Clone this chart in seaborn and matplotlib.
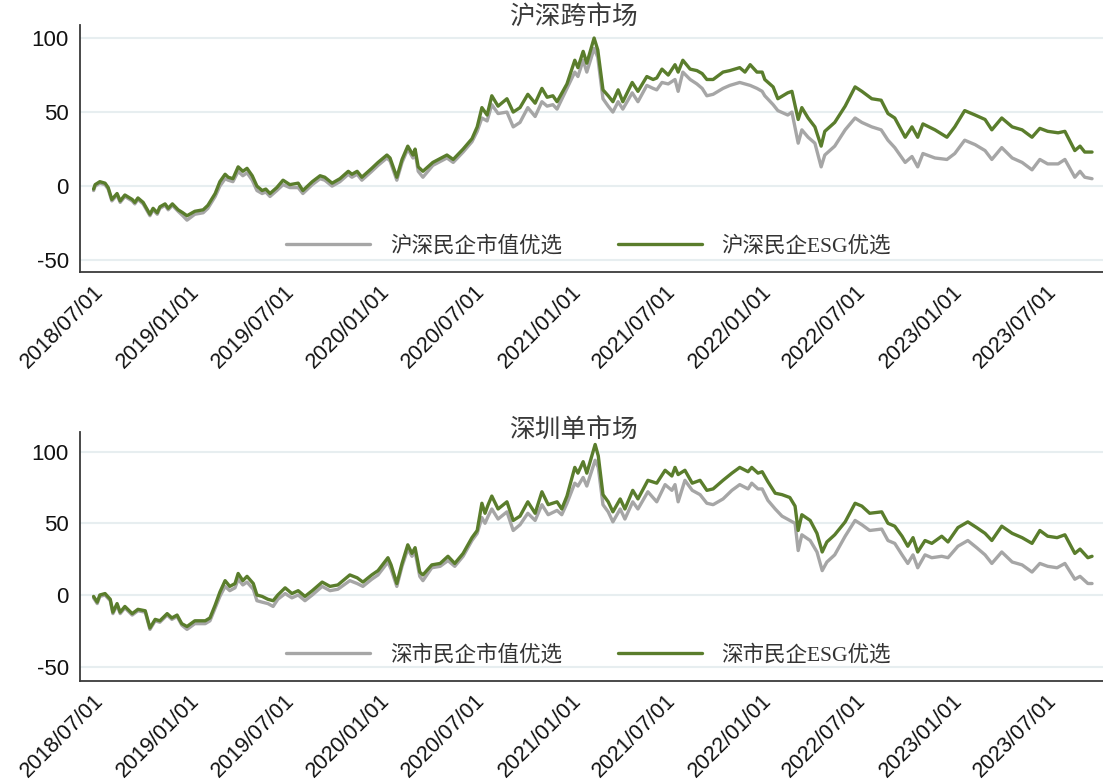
import matplotlib
matplotlib.use("Agg")
import matplotlib.pyplot as plt
import pandas as pd
import seaborn as sns

# ---------------- data ----------------
panel_titles = ["沪深跨市场", "深圳单市场"]
cross_labels = ["沪深民企市值优选", "沪深民企ESG优选"]
sz_labels = ["深市民企市值优选", "深市民企ESG优选"]
tick_labels = ["2018/07/01", "2019/01/01", "2019/07/01", "2020/01/01", "2020/07/01",
               "2021/01/01", "2021/07/01", "2022/01/01", "2022/07/01", "2023/01/01",
               "2023/07/01"]
y_ticks = [-50, 0, 50, 100]

# 沪深跨市场: cumulative return (%)
cross_dates = [
    "2018-07-02", "2018-07-05", "2018-07-14", "2018-07-24", "2018-07-30", "2018-08-06",
    "2018-08-16", "2018-08-22", "2018-08-31", "2018-09-14", "2018-09-19", "2018-09-25",
    "2018-10-05", "2018-10-18", "2018-10-24", "2018-11-01", "2018-11-06", "2018-11-16",
    "2018-11-22", "2018-11-30", "2018-12-11", "2018-12-20", "2018-12-28",
    "2019-01-12", "2019-01-28", "2019-02-06", "2019-02-20", "2019-03-01", "2019-03-11",
    "2019-03-17", "2019-03-26", "2019-04-05", "2019-04-14", "2019-04-22", "2019-05-02",
    "2019-05-11", "2019-05-21", "2019-05-28", "2019-06-05", "2019-06-18", "2019-06-30",
    "2019-07-13", "2019-07-29", "2019-08-07", "2019-08-25", "2019-09-09", "2019-09-18",
    "2019-10-02", "2019-10-17", "2019-11-02", "2019-11-09", "2019-11-19", "2019-11-28",
    "2019-12-17", "2019-12-29",
    "2020-01-15", "2020-01-21", "2020-02-03", "2020-02-13", "2020-02-24", "2020-03-05",
    "2020-03-09", "2020-03-15", "2020-03-24", "2020-04-12", "2020-05-09", "2020-05-21",
    "2020-06-09", "2020-06-26", "2020-07-06", "2020-07-15", "2020-07-25", "2020-08-03",
    "2020-08-15", "2020-09-01", "2020-09-13", "2020-09-26", "2020-10-11", "2020-10-25",
    "2020-11-07", "2020-11-17", "2020-11-28", "2020-12-06", "2020-12-25",
    "2021-01-09", "2021-01-15", "2021-01-25", "2021-02-01", "2021-02-15", "2021-02-22",
    "2021-03-04", "2021-03-14", "2021-03-23", "2021-04-02", "2021-04-11", "2021-04-29",
    "2021-05-10", "2021-05-27", "2021-06-08", "2021-06-15", "2021-06-25", "2021-07-07",
    "2021-07-20", "2021-07-26", "2021-08-04", "2021-08-18", "2021-08-31", "2021-09-10",
    "2021-09-19", "2021-10-01", "2021-10-20", "2021-11-02", "2021-11-21", "2021-12-01",
    "2021-12-11", "2021-12-24",
    "2022-01-03", "2022-01-08", "2022-01-24", "2022-02-02", "2022-02-21", "2022-03-01",
    "2022-03-13", "2022-03-20", "2022-04-01", "2022-04-14", "2022-04-26", "2022-05-03",
    "2022-05-22", "2022-06-11", "2022-06-30", "2022-07-13", "2022-08-01", "2022-08-19",
    "2022-09-01", "2022-09-14", "2022-10-04", "2022-10-17", "2022-10-28", "2022-11-07",
    "2022-11-30", "2022-12-23",
    "2023-01-07", "2023-01-26", "2023-02-15", "2023-03-06", "2023-03-19", "2023-04-07",
    "2023-04-27", "2023-05-16", "2023-06-04", "2023-06-19", "2023-07-04", "2023-07-24",
    "2023-08-06", "2023-08-25", "2023-09-04", "2023-09-13", "2023-09-27",
]
cross_size = [
    -3, 0, 2, 1, -2, -10, -6, -11, -7, -10, -12, -9, -12, -20, -16, -19, -15, -13, -16,
    -13, -17, -20, -23,
    -19, -18, -15, -7, 0, 5, 4, 3, 10, 7, 9, 4, -3, -5, -4, -7, -3, 1, -1, -1, -5, 1, 5,
    4, 0, 3, 8, 6, 8, 4, 10, 14,
    19, 17, 4, 16, 25, 19, 23, 10, 6, 14, 19, 16, 23, 30, 37, 46, 44, 55, 49, 50, 40, 43,
    53, 47, 57, 54, 55, 52, 66,
    77, 74, 85, 77, 93, 87, 59, 54, 50, 57, 52, 63, 57, 68, 66, 65, 70, 69, 72, 64, 77,
    72, 69, 66, 61, 62, 66, 68, 70, 69, 68, 66,
    64, 61, 55, 51, 48, 50, 29, 38, 33, 29, 13, 21, 27, 38, 46, 43, 40, 38, 31, 26, 16,
    20, 13, 22, 19, 18,
    22, 31, 28, 24, 18, 26, 19, 16, 11, 18, 15, 15, 18, 6, 10, 6, 5,
]
cross_esg = [
    -2, 1, 3, 2, -1, -9, -5, -10, -6, -9, -11, -8, -11, -19, -15, -18, -14, -12, -15,
    -12, -16, -18, -20,
    -17, -16, -13, -5, 3, 8, 6, 5, 13, 10, 12, 7, 0, -3, -2, -5, -1, 4, 1, 2, -3, 3, 7,
    6, 2, 5, 10, 8, 10, 6, 12, 16,
    21, 19, 6, 18, 27, 21, 25, 13, 10, 16, 21, 18, 25, 32, 40, 53, 48, 61, 54, 59, 50, 53,
    62, 56, 66, 60, 61, 57, 69,
    85, 80, 91, 83, 100, 92, 65, 61, 57, 65, 57, 70, 64, 74, 72, 73, 79, 75, 82, 77, 85,
    79, 78, 76, 72, 72, 77, 78, 80, 77, 82, 77,
    77, 72, 67, 59, 63, 64, 45, 53, 46, 40, 27, 37, 43, 54, 67, 64, 59, 58, 49, 46, 33,
    40, 33, 42, 38, 33,
    40, 51, 48, 45, 38, 46, 40, 38, 33, 39, 37, 36, 37, 24, 27, 23, 23,
]

# 深圳单市场: cumulative return (%)
sz_dates = [
    "2018-07-02", "2018-07-09", "2018-07-14", "2018-07-24", "2018-08-03", "2018-08-08",
    "2018-08-16", "2018-08-22", "2018-08-31", "2018-09-14", "2018-09-25", "2018-10-09",
    "2018-10-18", "2018-10-28", "2018-11-06", "2018-11-20", "2018-11-29", "2018-12-09",
    "2018-12-18", "2018-12-28",
    "2019-01-12", "2019-02-01", "2019-02-10", "2019-02-20", "2019-03-01", "2019-03-11",
    "2019-03-20", "2019-03-30", "2019-04-05", "2019-04-14", "2019-04-22", "2019-05-04",
    "2019-05-11", "2019-05-21", "2019-06-01", "2019-06-11", "2019-06-20", "2019-07-04",
    "2019-07-17", "2019-07-29", "2019-08-11", "2019-08-25", "2019-09-13", "2019-09-28",
    "2019-10-13", "2019-11-05", "2019-11-19", "2019-11-30", "2019-12-17", "2019-12-29",
    "2020-01-17", "2020-01-23", "2020-02-03", "2020-02-13", "2020-02-24", "2020-03-03",
    "2020-03-09", "2020-03-18", "2020-03-24", "2020-04-10", "2020-04-26", "2020-05-11",
    "2020-05-24", "2020-06-09", "2020-06-26", "2020-07-06", "2020-07-15", "2020-07-21",
    "2020-07-27", "2020-08-03", "2020-08-15", "2020-09-01", "2020-09-13", "2020-09-26",
    "2020-10-11", "2020-10-25", "2020-11-07", "2020-11-19", "2020-12-06", "2020-12-15",
    "2020-12-25",
    "2021-01-09", "2021-01-15", "2021-01-25", "2021-02-01", "2021-02-17", "2021-02-23",
    "2021-03-04", "2021-03-14", "2021-03-23", "2021-04-06", "2021-04-15", "2021-04-30",
    "2021-05-10", "2021-05-29", "2021-06-15", "2021-07-01", "2021-07-14", "2021-07-20",
    "2021-07-26", "2021-08-08", "2021-08-22", "2021-09-06", "2021-09-19", "2021-10-01",
    "2021-10-20", "2021-11-06", "2021-11-21", "2021-12-07", "2021-12-14", "2021-12-26",
    "2022-01-03", "2022-01-14", "2022-01-28", "2022-02-10", "2022-02-25", "2022-03-07",
    "2022-03-13", "2022-03-20", "2022-04-05", "2022-04-18", "2022-04-28", "2022-05-07",
    "2022-05-22", "2022-06-11", "2022-06-30", "2022-07-13", "2022-07-28", "2022-08-20",
    "2022-09-01", "2022-09-14", "2022-09-28", "2022-10-09", "2022-10-19", "2022-10-28",
    "2022-11-11", "2022-11-24", "2022-12-13", "2022-12-25",
    "2023-01-13", "2023-02-01", "2023-02-18", "2023-03-06", "2023-03-19", "2023-04-07",
    "2023-04-27", "2023-05-16", "2023-06-04", "2023-06-19", "2023-07-04", "2023-07-22",
    "2023-08-06", "2023-08-25", "2023-09-04", "2023-09-19", "2023-09-27",
]
sz_size = [
    -2, -6, -1, 0, -4, -13, -7, -13, -9, -14, -11, -12, -24, -18, -19, -14, -17, -15,
    -21, -24,
    -20, -20, -18, -9, -1, 6, 3, 5, 11, 7, 9, 4, -4, -5, -6, -8, -3, 1, -2, 0, -4, 0, 6,
    3, 4, 10, 8, 6, 11, 14,
    23, 18, 6, 20, 32, 27, 30, 13, 10, 19, 20, 24, 20, 27, 38, 43, 54, 50, 55, 60, 53,
    58, 45, 49, 57, 52, 63, 56, 59, 56, 64,
    78, 76, 82, 76, 94, 89, 63, 58, 51, 60, 53, 65, 60, 72, 65, 77, 73, 77, 65, 80, 73,
    70, 64, 63, 67, 73, 77, 74, 78, 74,
    74, 66, 60, 55, 52, 50, 31, 42, 38, 30, 17, 23, 28, 41, 52, 49, 45, 46, 38, 36, 28,
    22, 28, 19, 28, 26, 27, 26,
    34, 38, 33, 28, 22, 30, 23, 21, 16, 22, 20, 19, 22, 11, 13, 8, 8,
]
sz_esg = [
    -1, -5, 0, 1, -3, -12, -6, -12, -8, -13, -10, -11, -23, -17, -18, -13, -16, -14,
    -20, -22,
    -18, -18, -16, -7, 2, 10, 6, 8, 15, 10, 13, 8, 0, -1, -3, -4, 0, 5, 1, 3, -1, 3, 9,
    6, 7, 14, 12, 9, 14, 17,
    26, 21, 8, 22, 35, 29, 33, 16, 14, 21, 22, 27, 22, 29, 40, 45, 64, 57, 63, 69, 60,
    65, 52, 55, 65, 57, 72, 63, 65, 60, 69,
    89, 85, 93, 85, 105, 97, 70, 65, 58, 67, 60, 73, 67, 80, 78, 87, 83, 89, 84, 87, 78,
    80, 73, 74, 80, 85, 89, 86, 89, 85,
    86, 79, 71, 70, 68, 62, 45, 56, 52, 43, 30, 37, 42, 51, 64, 62, 57, 58, 50, 48, 41,
    34, 40, 30, 38, 36, 41, 37,
    47, 51, 47, 43, 38, 48, 43, 40, 36, 45, 41, 40, 42, 29, 32, 26, 27,
]

# ---------------- style ----------------
GRAY = "#a6a6a6"
GREEN = "#5a7d2c"
AXIS_COLOR = "#3a3a3a"

sns.set_theme(style="white")
plt.rcParams["font.family"] = ["Liberation Sans", "Noto Sans CJK SC"]
plt.rcParams["axes.unicode_minus"] = False

fig = plt.figure(figsize=(11.03, 7.83), dpi=100)
W, H = 1103, 783
ax_top = fig.add_axes([80 / W, 1 - 272 / H, 1 - 80 / W, 247 / H])
ax_bot = fig.add_axes([80 / W, 1 - 681 / H, 1 - 80 / W, 249 / H])


def long_frame(dates, size_vals, esg_vals, labels):
    d = pd.to_datetime(dates)
    part_a = pd.DataFrame({"date": d, "value": size_vals, "series": labels[0]})
    part_b = pd.DataFrame({"date": d, "value": esg_vals, "series": labels[1]})
    return pd.concat([part_a, part_b], ignore_index=True)


panels = [
    (ax_top, long_frame(cross_dates, cross_size, cross_esg, cross_labels), cross_labels,
     panel_titles[0], (-58, 108.8), 1.028),
    (ax_bot, long_frame(sz_dates, sz_size, sz_esg, sz_labels), sz_labels,
     panel_titles[1], (-60, 113.7), 1.004),
]

tick_pos = pd.to_datetime(tick_labels, format="%Y/%m/%d")

for ax, df, labels, title, ylim, title_y in panels:
    sns.lineplot(data=df, x="date", y="value", hue="series", hue_order=labels,
                 palette=[GRAY, GREEN], linewidth=2.4, estimator=None, ax=ax)

    ax.set_xlim(pd.Timestamp("2018-06-06"), pd.Timestamp("2023-10-18"))
    ax.set_ylim(*ylim)
    ax.set_xlabel("")
    ax.set_ylabel("")

    ax.set_yticks(y_ticks)
    ax.set_yticklabels([str(v) for v in y_ticks])
    ax.set_xticks(tick_pos)
    ax.set_xticklabels(tick_labels, rotation=45, ha="right", va="top",
                       rotation_mode="anchor")

    ax.yaxis.grid(True, color="#e7eef0", linewidth=1.5)
    ax.xaxis.grid(False)
    ax.set_axisbelow(True)

    for side in ("top", "right"):
        ax.spines[side].set_visible(False)
    for side in ("left", "bottom"):
        ax.spines[side].set_color(AXIS_COLOR)
        ax.spines[side].set_linewidth(1.3)

    ax.tick_params(axis="both", which="major", length=6, width=1.2,
                   color=AXIS_COLOR, labelsize=16, labelcolor="#111111")
    ax.tick_params(axis="y", pad=2)
    ax.tick_params(axis="x", labelsize=15.5, pad=0.5)

    handles, _ = ax.get_legend_handles_labels()
    ax.legend(handles, labels, loc="center", bbox_to_anchor=(0.497, 0.105), ncol=2,
              frameon=False, handlelength=3.9, handletextpad=0.9, columnspacing=2.6,
              prop={"family": ["Liberation Serif", "Noto Sans CJK SC"], "size": 15.5},
              labelcolor="#333333")

    ax.text(0.482, title_y, title, transform=ax.transAxes, ha="center", va="center",
            fontsize=18.5, color="#3a3a3a", family=["Noto Sans CJK SC"])

fig.savefig("out.png", dpi=100)
